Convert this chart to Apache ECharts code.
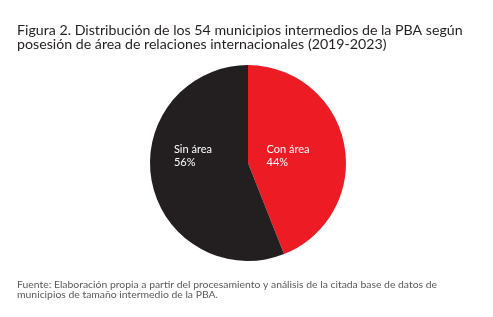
<!DOCTYPE html>
<html><head><meta charset="utf-8">
<script src="https://cdn.jsdelivr.net/npm/echarts@6/dist/echarts.min.js"></script>
<style>html,body{margin:0;padding:0;background:#fff}#c{width:493px;height:317px}</style>
</head><body><div id="c"></div>
<script>
var categories = ['Con área', 'Sin área'];
var values = [44, 56];
var colors = ['#ED1C24', '#231F20'];
var titleText = 'Figura 2. Distribución de los 54 municipios intermedios de la PBA según\nposesión de área de relaciones internacionales (2019-2023)';
var sourceText = 'Fuente: Elaboración propia a partir del procesamiento y análisis de la citada base de datos de\nmunicipios de tamaño intermedio de la PBA.';
var labelOffsets = [[-11, 3], [-4, -17]];

var chart = echarts.init(document.getElementById('c'), null, {renderer: 'canvas'});
chart.setOption({
  animation: false,
  title: [{
    text: titleText, left: 12, top: 18,
    textStyle: {fontFamily: 'Lato', fontSize: 14.2, fontWeight: 'normal', color: '#231F20', lineHeight: 14}
  }, {
    text: sourceText, left: 12, top: 275,
    textStyle: {fontFamily: 'Lato', fontSize: 10.4, fontWeight: 'normal', color: '#58595B', lineHeight: 9.5}
  }],
  series: [{
    type: 'pie',
    center: [248, 163],
    radius: 98,
    startAngle: 90,
    clockwise: true,
    data: categories.map(function (c, i) {
      return {name: c, value: values[i], itemStyle: {color: colors[i]},
        label: {offset: labelOffsets[i]}};
    }),
    label: {
      position: 'inside',
      formatter: '{a|{b}}\n{a|{d}%}',
      color: '#fff',
      fontFamily: 'Lato',
      fontSize: 11,
      lineHeight: 13,
      align: 'left',
      rich: {a: {align: 'left', color: '#fff', fontFamily: 'Lato', fontSize: 11, lineHeight: 13}}
    },
    labelLine: {show: false},
    itemStyle: {borderWidth: 0}
  }]
});
</script></body></html>
